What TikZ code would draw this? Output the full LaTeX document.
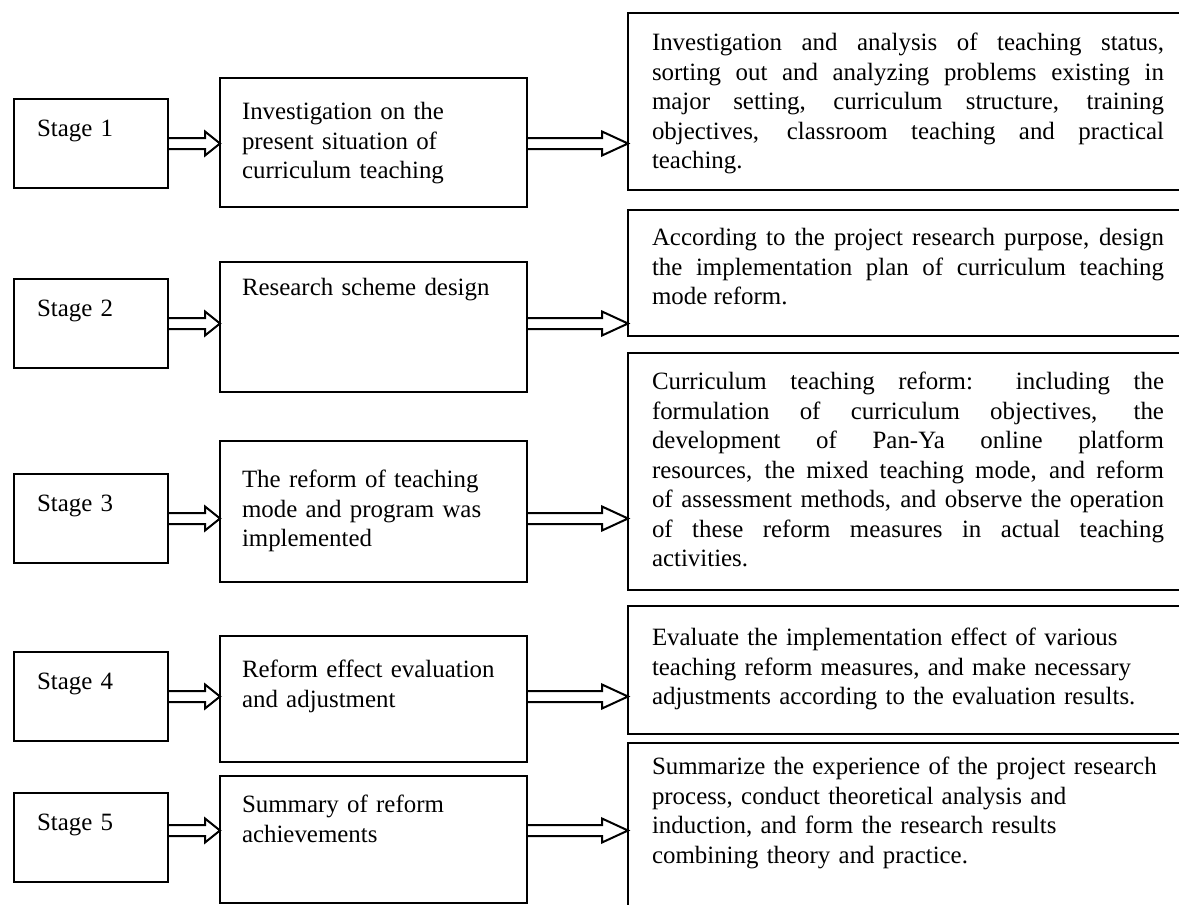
\documentclass[tikz,border=0pt]{standalone}
\usepackage{fontspec}
\setmainfont{Liberation Serif}
\usetikzlibrary{calc}

\begin{document}
\begin{tikzpicture}[x=0.5pt,y=-0.5pt]
\tikzstyle{plainbox}=[draw,line width=1pt,outer sep=0pt,inner ysep=0pt,anchor=north west,font=\fontsize{12.45pt}{14.75pt}\selectfont]
\tikzstyle{stagebox}=[plainbox,inner xsep=11.5pt,text width=54pt,align=left,text height=18.5pt,text depth=26pt]
\tikzstyle{taskbox}=[plainbox,inner xsep=11pt,text width=131.5pt,align=left]
\tikzstyle{detailbox}=[plainbox,inner xsep=12pt,text width=256pt]
\tikzstyle{blockarrow}=[line width=1pt]

\useasboundingbox (0,0) rectangle (1179,905);
\clip (0,0) rectangle (1179,905);

\node (S1) [stagebox] at (14,99) {Stage 1};
\node (S2) [stagebox] at (14,279) {Stage 2};
\node (S3) [stagebox] at (14,474) {Stage 3};
\node (S4) [stagebox] at (14,652) {Stage 4};
\node (S5) [stagebox] at (14,793) {Stage 5};

\node (T1) [taskbox,text height=20.75pt,text depth=43.75pt] at (220,78) {Investigation on the\\ present situation of\\ curriculum teaching};
\node (T2) [taskbox,text height=16.75pt,text depth=48.25pt] at (220,262) {Research scheme design};
\node (T3) [taskbox,text height=23.25pt,text depth=47.25pt] at (220,441) {The reform of teaching\\ mode and program was\\ implemented};
\node (T4) [taskbox,text height=20.75pt,text depth=42.25pt] at (220,636) {Reform effect evaluation\\ and adjustment};
\node (T5) [taskbox,text height=18.25pt,text depth=45.25pt] at (220,776) {Summary of reform\\ achievements};

\node (C1) [detailbox,align=justify,text height=18.75pt,text depth=69.75pt] at (628,13) {Investigation and analysis of teaching status,\linebreak sorting out and analyzing problems existing in\linebreak major setting, curriculum structure, training\linebreak objectives, classroom teaching and practical\linebreak teaching.};
\node (C2) [detailbox,align=justify,text height=17.75pt,text depth=45.25pt] at (628,210) {According to the project research purpose, design\linebreak the implementation plan of curriculum teaching\linebreak mode reform.};
\node (C3) [detailbox,align=justify,text height=18.25pt,text depth=100.25pt] at (628,353) {Curriculum teaching reform: including the\linebreak formulation of curriculum objectives, the\linebreak development of Pan-Ya online platform\linebreak resources, the mixed teaching mode, and reform\linebreak of assessment methods, and observe the operation\linebreak of these reform measures in actual teaching\linebreak activities.};
\node (C4) [detailbox,align=left,text width=270pt,text height=19.75pt,text depth=44.25pt] at (628,606) {Evaluate the implementation effect of various\\ teaching reform measures, and make necessary\\ adjustments according to the evaluation results.};
\node (C5) [detailbox,align=left,text width=270pt,text height=15.75pt,text depth=74.25pt] at (628,743) {Summarize the experience of the project research\\ process, conduct theoretical analysis and\\ induction, and form the research results\\ combining theory and practice.};

% stage -> task
\draw [blockarrow] let \p1=(S1.east), \p2=(T1.west) in (\x1,\y1+2.75pt) -- (\x2-7.5pt,\y1+2.75pt) -- (\x2-7.5pt,\y1+6pt) -- (\x2,\y1) -- (\x2-7.5pt,\y1-6pt) -- (\x2-7.5pt,\y1-2.75pt) -- (\x1,\y1-2.75pt);
\draw [blockarrow] let \p1=(S2.east), \p2=(T2.west) in (\x1,\y1+2.75pt) -- (\x2-7.5pt,\y1+2.75pt) -- (\x2-7.5pt,\y1+6pt) -- (\x2,\y1) -- (\x2-7.5pt,\y1-6pt) -- (\x2-7.5pt,\y1-2.75pt) -- (\x1,\y1-2.75pt);
\draw [blockarrow] let \p1=(S3.east), \p2=(T3.west) in (\x1,\y1+2.75pt) -- (\x2-7.5pt,\y1+2.75pt) -- (\x2-7.5pt,\y1+6pt) -- (\x2,\y1) -- (\x2-7.5pt,\y1-6pt) -- (\x2-7.5pt,\y1-2.75pt) -- (\x1,\y1-2.75pt);
\draw [blockarrow] let \p1=(S4.east), \p2=(T4.west) in (\x1,\y1+2.75pt) -- (\x2-7.5pt,\y1+2.75pt) -- (\x2-7.5pt,\y1+6pt) -- (\x2,\y1) -- (\x2-7.5pt,\y1-6pt) -- (\x2-7.5pt,\y1-2.75pt) -- (\x1,\y1-2.75pt);
\draw [blockarrow] let \p1=($(S5.east)+(0,-7)$), \p2=(T5.west) in (\x1,\y1+2.75pt) -- (\x2-7.5pt,\y1+2.75pt) -- (\x2-7.5pt,\y1+6pt) -- (\x2,\y1) -- (\x2-7.5pt,\y1-6pt) -- (\x2-7.5pt,\y1-2.75pt) -- (\x1,\y1-2.75pt);

% task -> content
\draw [blockarrow] let \p1=(S1.east), \p2=(T1.east), \p3=(C1.west) in (\x2,\y1+2.75pt) -- (\x3-13pt,\y1+2.75pt) -- (\x3-13pt,\y1+6pt) -- (\x3,\y1) -- (\x3-13pt,\y1-6pt) -- (\x3-13pt,\y1-2.75pt) -- (\x2,\y1-2.75pt);
\draw [blockarrow] let \p1=(S2.east), \p2=(T2.east), \p3=(C2.west) in (\x2,\y1+2.75pt) -- (\x3-13pt,\y1+2.75pt) -- (\x3-13pt,\y1+6pt) -- (\x3,\y1) -- (\x3-13pt,\y1-6pt) -- (\x3-13pt,\y1-2.75pt) -- (\x2,\y1-2.75pt);
\draw [blockarrow] let \p1=(S3.east), \p2=(T3.east), \p3=(C3.west) in (\x2,\y1+2.75pt) -- (\x3-13pt,\y1+2.75pt) -- (\x3-13pt,\y1+6pt) -- (\x3,\y1) -- (\x3-13pt,\y1-6pt) -- (\x3-13pt,\y1-2.75pt) -- (\x2,\y1-2.75pt);
\draw [blockarrow] let \p1=(S4.east), \p2=(T4.east), \p3=(C4.west) in (\x2,\y1+2.75pt) -- (\x3-13pt,\y1+2.75pt) -- (\x3-13pt,\y1+6pt) -- (\x3,\y1) -- (\x3-13pt,\y1-6pt) -- (\x3-13pt,\y1-2.75pt) -- (\x2,\y1-2.75pt);
\draw [blockarrow] let \p1=($(S5.east)+(0,-7)$), \p2=(T5.east), \p3=(C5.west) in (\x2,\y1+2.75pt) -- (\x3-13pt,\y1+2.75pt) -- (\x3-13pt,\y1+6pt) -- (\x3,\y1) -- (\x3-13pt,\y1-6pt) -- (\x3-13pt,\y1-2.75pt) -- (\x2,\y1-2.75pt);

\end{tikzpicture}
\end{document}
